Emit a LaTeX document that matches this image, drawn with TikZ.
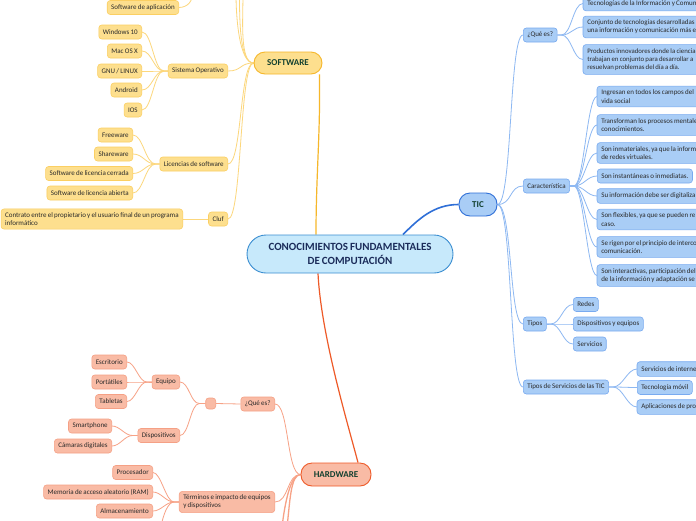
\documentclass[tikz,border=0pt]{standalone}
\usepackage{fontspec}
\setmainfont{Carlito}[WordSpace=0.8]
\pgfdeclarelayer{paper}
\pgfdeclarelayer{bg}
\pgfsetlayers{paper,bg,main}
\definecolor{txtc}{HTML}{2A2A2A}
\definecolor{topc}{HTML}{12402F}
\definecolor{cent}{HTML}{1B2C5A}
\definecolor{cenf}{HTML}{C7E9FB}
\definecolor{cend}{HTML}{3B8ED1}
\definecolor{swf}{HTML}{FDDF8E}
\definecolor{swd}{HTML}{FBCF62}
\definecolor{swl}{HTML}{FCD77C}
\definecolor{swm}{HTML}{F6B72A}
\definecolor{hwf}{HTML}{F9BBA5}
\definecolor{hwd}{HTML}{F5A085}
\definecolor{hwl}{HTML}{F7A286}
\definecolor{hwm}{HTML}{EE5A28}
\definecolor{tcf}{HTML}{A9CDF6}
\definecolor{tcd}{HTML}{78AAF0}
\definecolor{tcl}{HTML}{8DB8F2}
\definecolor{tcm}{HTML}{2F6FD7}
\tikzset{
 nbase/.style={draw, rounded corners=3pt, line width=0.6pt, inner xsep=4pt, inner ysep=3.5pt, minimum height=14pt, font=\fontsize{7}{8.2}\selectfont, text=txtc, align=left},
 swbox/.style={nbase, fill=swf, draw=swd},
 hwbox/.style={nbase, fill=hwf, draw=hwd},
 tcbox/.style={nbase, fill=tcf, draw=tcd},
 tctext/.style={nbase, draw=none, fill=none},
 tcrect/.style={fill=tcf, draw=tcd, line width=0.6pt, rounded corners=3pt},
 topic/.style={draw, line width=0.9pt, rounded corners=11pt, font=\fontsize{9}{11}\selectfont\bfseries, text=topc, inner sep=0pt, minimum height=22pt},
 swln/.style={draw=swl, line width=0.8pt},
 hwln/.style={draw=hwl, line width=0.8pt},
 tcln/.style={draw=tcl, line width=0.8pt},
}
\begin{document}
\begin{tikzpicture}[x=1pt,y=-1pt]
\useasboundingbox (0,0) rectangle (696,520);
\begin{pgfonlayer}{paper}
\fill[white] (0,0) rectangle (696,520);
\end{pgfonlayer}
\clip (0,0) rectangle (696,520);

% central
\node[draw=cend, fill=cenf, line width=0.9pt, rounded corners=19pt, minimum width=206pt, minimum height=38pt, font=\fontsize{11}{13.5}\selectfont\bfseries, align=center, text=cent] (c) at (350,254) {CONOCIMIENTOS FUNDAMENTALES\\DE COMPUTACIÓN};

% main topics
\node[topic, fill=swf, draw=swm, minimum width=68pt] (sw) at (288,63) {SOFTWARE};
\node[topic, fill=hwf, draw=hwm, minimum width=70pt, minimum height=23pt] (hw) at (336,474.5) {HARDWARE};
\node[topic, fill=tcf, draw=tcm, minimum width=38pt, minimum height=23pt] (tic) at (478,204.5) {TIC};

% SOFTWARE branch
\node[swbox, anchor=east] (sapl) at (179,7.5) {Software de aplicación};
\node[swbox, anchor=east] (so) at (228,71) {Sistema Operativo};
\node[swbox, anchor=east] (win) at (142,32) {Windows 10};
\node[swbox, anchor=east] (mac) at (142,51) {Mac OS X};
\node[swbox, anchor=east] (gnu) at (142,71) {GNU / LINUX};
\node[swbox, anchor=east] (andr) at (142,90) {Android};
\node[swbox, anchor=east] (ios) at (142,110) {IOS};
\node[swbox, anchor=east] (lic) at (228,164) {Licencias de software};
\node[swbox, anchor=east] (free) at (133,135) {Freeware};
\node[swbox, anchor=east] (share) at (133,154) {Shareware};
\node[swbox, anchor=east] (cerr) at (133,173.5) {Software de licencia cerrada};
\node[swbox, anchor=east] (abie) at (133,193) {Software de licencia abierta};
\node[swbox, anchor=east] (cluf) at (228,219) {Cluf};
\node[swbox, anchor=east] (contr) at (183,219) {Contrato entre el propietario y el usuario final de un programa\\informático};
\coordinate (sapup) at (193,-6);
\coordinate (su1) at (236,-6);
\coordinate (su2) at (239.5,-6);
\coordinate (su3) at (243,-6);

% HARDWARE branch
\node[hwbox, anchor=east] (hq) at (275,404) {¿Qué es?};
\node[hwbox, anchor=east, minimum width=10pt, minimum height=11pt, inner sep=0pt] (hempty) at (216,403.5) {};
\node[hwbox, anchor=east] (equipo) at (180,382) {Equipo};
\node[hwbox, anchor=east] (disp) at (180,435.5) {Dispositivos};
\node[hwbox, anchor=east] (escr) at (127,362) {Escritorio};
\node[hwbox, anchor=east] (port) at (127,382) {Portátiles};
\node[hwbox, anchor=east] (tabl) at (127,401.5) {Tabletas};
\node[hwbox, anchor=east] (smart) at (112,426) {Smartphone};
\node[hwbox, anchor=east] (cam) at (112,446) {Cámaras digitales};
\node[hwbox, anchor=east] (term) at (275,502) {Términos e impacto de equipos\\y dispositivos};
\node[hwbox, anchor=east] (proc) at (153,472.5) {Procesador};
\node[hwbox, anchor=east] (ram) at (153,492) {Memoria de acceso aleatorio (RAM)};
\node[hwbox, anchor=east] (alm) at (153,511) {Almacenamiento};
\coordinate (hd1) at (282,527);
\coordinate (hd2) at (287,527);
\coordinate (td1) at (161,527);

% TIC branch
\coordinate (farR) at (730,0);
\node[tcbox, anchor=west] (tq) at (523,35) {¿Qué es?};
\node[tctext, anchor=west] (tq1) at (583,3.5) {Tecnologías de la Información y Comun};
\node[tctext, anchor=west] (tq2) at (583,27) {Conjunto de tecnologías desarrolladas\\una información y comunicación más e};
\node[tctext, anchor=west, font=\fontsize{6.8}{8.2}\selectfont] (tq3) at (583,59.5) {Productos innovadores donde la ciencia\\trabajan en conjunto para desarrollar a\\resuelvan problemas del día a día.};
\node[tcbox, anchor=west] (car) at (523,186) {Característica};
\node[tctext, anchor=west] (c1) at (597,96.5) {Ingresan en todos los campos del\\vida social};
\node[tctext, anchor=west] (c2) at (597,125) {Transforman los procesos mentale\\conocimientos.};
\node[tctext, anchor=west] (c3) at (597,153) {Son inmateriales, ya que la inform\\de redes virtuales.};
\node[tcbox, anchor=west] (c4) at (597,176) {Son instantáneas o inmediatas.};
\node[tctext, anchor=west] (c5) at (597,196) {Su información debe ser digitaliza};
\node[tctext, anchor=west] (c6) at (597,219.5) {Son flexibles, ya que se pueden re\\caso.};
\node[tctext, anchor=west] (c7) at (597,247) {Se rigen por el principio de interco\\comunicación.};
\node[tctext, anchor=west] (c8) at (597,275.5) {Son interactivas, participación del\\de la información y adaptación se};
\node[tcbox, anchor=west] (tipos) at (523,324) {Tipos};
\node[tcbox, anchor=west] (redes) at (573,304.5) {Redes};
\node[tcbox, anchor=west] (dyeq) at (573,324) {Dispositivos y equipos};
\node[tcbox, anchor=west] (serv) at (573,344) {Servicios};
\node[tcbox, anchor=west] (tst) at (523,387) {Tipos de Servicios de las TIC};
\node[tctext, anchor=west] (s1) at (637,369) {Servicios de interne};
\node[tcbox, anchor=west] (s2) at (637,387.5) {Tecnología móvil};
\node[tctext, anchor=west] (s3) at (637,407) {Aplicaciones de pro};

\begin{pgfonlayer}{bg}
\clip (0,0) rectangle (696,520);
% main connectors
\draw[draw=swm, line width=1.2pt] ([xshift=-34pt]c.north) .. controls +(0,-60) and +(1,60) .. ([xshift=-3pt]sw.south east);
\draw[draw=hwm, line width=1.2pt] ([xshift=-32pt]c.south) .. controls +(3,60) and +(-12,-45) .. ([xshift=22pt]hw.north);
\draw[draw=tcm, line width=1.6pt] ([xshift=53pt]c.north) .. controls +(15,-15) and +(-25,0) .. (tic.west);

% software
\foreach \t in {so,lic,cluf}
  \draw[swln] (sw.west) .. controls +(-14,0) and +(14,0) .. (\t.east);
\foreach \t in {su1,su2,su3}
  \draw[swln] (sw.west) .. controls +(-14,0) and +(0,25) .. (\t);
\draw[swln] (sapl.east) .. controls +(9,0) and +(0,6) .. (sapup);
\foreach \t in {win,mac,gnu,andr,ios}
  \draw[swln] (so.west) -- ++(-4,0) .. controls +(-10,0) and +(10,0) .. (\t.east);
\foreach \t in {free,share,cerr,abie}
  \draw[swln] (lic.west) -- ++(-4,0) .. controls +(-10,0) and +(10,0) .. (\t.east);
\draw[swln] (cluf.west) -- (contr.east);

% hardware
\foreach \t in {hq,term}
  \draw[hwln] (hw.west) .. controls +(-14,0) and +(14,0) .. (\t.east);
\foreach \t in {hd1,hd2}
  \draw[hwln, line width=1.3pt] (hw.west) .. controls +(-10,0) and +(3,-25) .. (\t);
\draw[hwln] (hq.west) -- (hempty.east);
\foreach \t in {equipo,disp}
  \draw[hwln] (hempty.west) -- ++(-6,0) .. controls +(-9,0) and +(9,0) .. (\t.east);
\foreach \t in {escr,port,tabl}
  \draw[hwln] (equipo.west) -- ++(-5,0) .. controls +(-8,0) and +(8,0) .. (\t.east);
\foreach \t in {smart,cam}
  \draw[hwln] (disp.west) -- ++(-5,0) .. controls +(-8,0) and +(8,0) .. (\t.east);
\foreach \t in {proc,ram,alm}
  \draw[hwln] (term.west) -- ++(-5,0) .. controls +(-8,0) and +(8,0) .. (\t.east);
\draw[hwln] (term.west) -- ++(-5,0) .. controls +(-6,0) and +(2,-12) .. (td1);

% tic
\foreach \t in {tq,car,tipos,tst}
  \draw[tcln] (tic.east) .. controls +(15,0) and +(-14,0) .. (\t.west);
\foreach \t in {tq1,tq2,tq3}
  \draw[tcln] (tq.east) -- ++(4,0) .. controls +(10,0) and +(-10,0) .. (\t.west);
\foreach \t in {c1,c2,c3,c4,c5,c6,c7,c8}
  \draw[tcln] (car.east) -- ++(4,0) .. controls +(10,0) and +(-10,0) .. (\t.west);
\foreach \t in {redes,dyeq,serv}
  \draw[tcln] (tipos.east) -- ++(4,0) .. controls +(10,0) and +(-10,0) .. (\t.west);
\foreach \t in {s1,s2,s3}
  \draw[tcln] (tst.east) -- ++(4,0) .. controls +(10,0) and +(-10,0) .. (\t.west);
% boxes that run past the right edge
\foreach \t in {tq1,tq2,tq3,c1,c2,c3,c5,c6,c7,c8,s1,s3}
  \draw[tcrect] (\t.south west) rectangle (\t.north west -| farR);
\end{pgfonlayer}
\end{tikzpicture}
\end{document}
